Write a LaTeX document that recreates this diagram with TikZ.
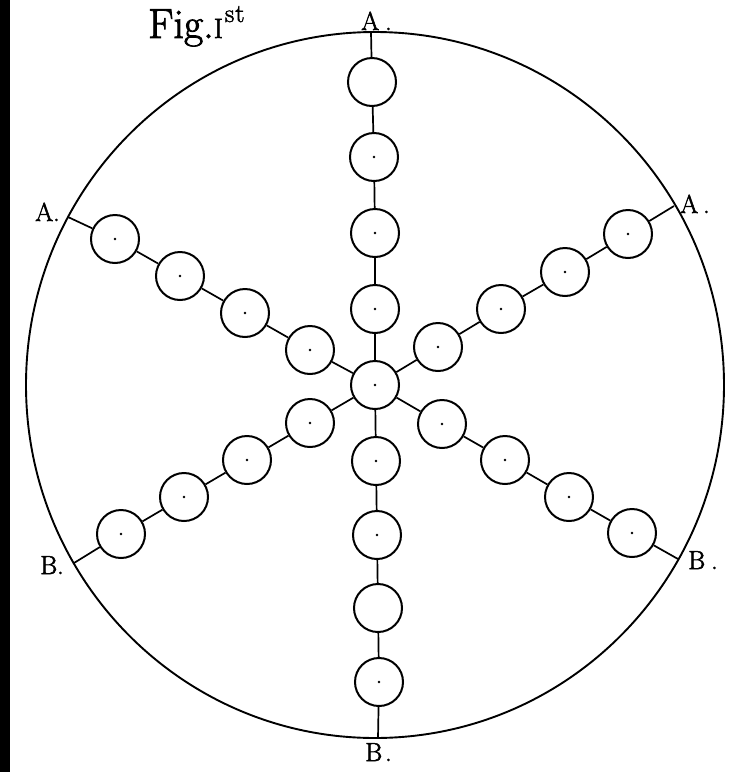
\documentclass[tikz,border=0pt]{standalone}
\usepackage{fontspec}
\newfontfamily\heavyfont{Latin Modern Roman}[FakeBold=2]
\begin{document}
\begin{tikzpicture}[x=1pt,y=-1pt,
  bead/.style={circle,draw,line width=2pt,minimum size=48pt,inner sep=0pt},
  spoke/.style={line width=1.7pt},
  rim/.style={line width=1.9pt},
  lab/.style={anchor=base west,inner sep=0pt,font=\heavyfont\fontsize{26}{26}\selectfont},
  pip/.style={fill=black}]
\useasboundingbox (0,0) rectangle (736,772);
\fill[black] (0,0) rectangle (10,772);
% rim
\draw[rim] (375,385) ellipse [x radius=349pt, y radius=353pt];
% title
\node[anchor=base west,inner sep=0pt,font=\heavyfont\fontsize{42}{42}\selectfont] (title) at (148,38)
  {Fig.{\fontsize{28}{28}\selectfont I}\kern2pt\raisebox{16pt}{\fontsize{26}{26}\selectfont s\kern1pt t}};
% boundary points
\coordinate (At) at (371,32);
\coordinate (Al) at (68,217);
\coordinate (Ar) at (674,206);
\coordinate (Bl) at (74,563);
\coordinate (Br) at (678,559);
\coordinate (Bb) at (378,738);
% labels
\node[lab] (LAt) at (361,30) {A\kern6pt.};
\node[lab] (LAl) at (35,221) {A.};
\node[lab] (LAr) at (680,213) {A\kern5pt.};
\node[lab] (LBl) at (40,574) {B.};
\node[lab] (LBr) at (688,569) {B\kern6pt.};
\node[lab] (LBb) at (365,761) {B\kern3pt.};
% beads
\node[bead] (c) at (375,385) {};
\node[bead] (t1) at (372,82) {};
\node[bead] (t2) at (374,157) {};
\node[bead] (t3) at (375,233) {};
\node[bead] (t4) at (375,309) {};
\node[bead] (b1) at (376,461) {};
\node[bead] (b2) at (377,535) {};
\node[bead] (b3) at (378,608) {};
\node[bead] (b4) at (379,682) {};
\node[bead] (ul1) at (310,350) {};
\node[bead] (ul2) at (245,313) {};
\node[bead] (ul3) at (180,276) {};
\node[bead] (ul4) at (115,239) {};
\node[bead] (ur1) at (438,347) {};
\node[bead] (ur2) at (501,309) {};
\node[bead] (ur3) at (565,272) {};
\node[bead] (ur4) at (628,234) {};
\node[bead] (ll1) at (310,423) {};
\node[bead] (ll2) at (247,460) {};
\node[bead] (ll3) at (184,497) {};
\node[bead] (ll4) at (121,534) {};
\node[bead] (lr1) at (442,424) {};
\node[bead] (lr2) at (505,460) {};
\node[bead] (lr3) at (569,497) {};
\node[bead] (lr4) at (632,533) {};
% centre pips
\foreach \n in {c,t2,t3,t4,b1,b2,b4,ul1,ul2,ul3,ul4,ur1,ur2,ur3,ur4,ll1,ll2,ll3,ll4,lr1,lr2,lr3,lr4}
  \fill[pip] (\n.center) circle (1.4pt);
% spokes
\draw[spoke] (At) -- (t1) -- (t2) -- (t3) -- (t4) -- (c) -- (b1) -- (b2) -- (b3) -- (b4) -- (Bb);
\draw[spoke] (Al) -- (ul4) -- (ul3) -- (ul2) -- (ul1) -- (c);
\draw[spoke] (Ar) -- (ur4) -- (ur3) -- (ur2) -- (ur1) -- (c);
\draw[spoke] (Bl) -- (ll4) -- (ll3) -- (ll2) -- (ll1) -- (c);
\draw[spoke] (Br) -- (lr4) -- (lr3) -- (lr2) -- (lr1) -- (c);
\end{tikzpicture}
\end{document}
